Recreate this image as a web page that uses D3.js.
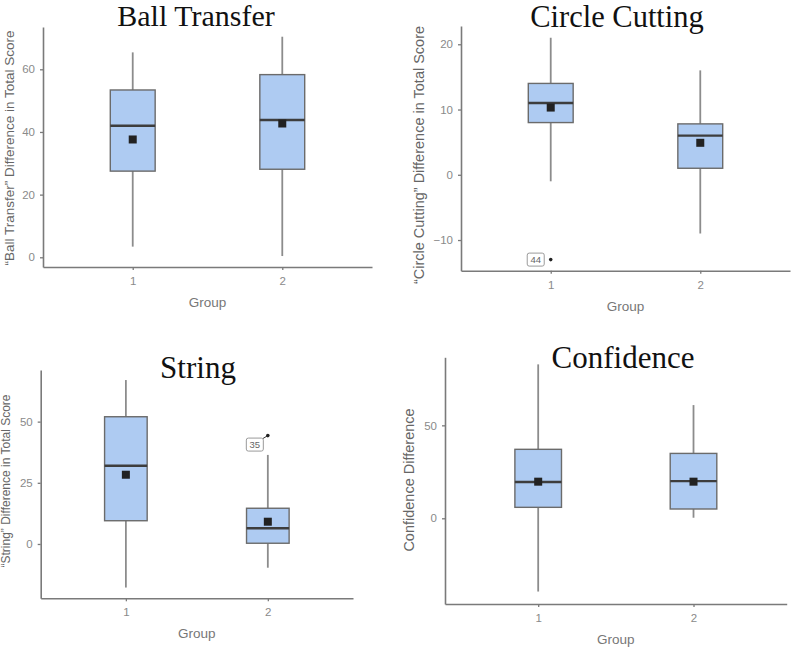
<!DOCTYPE html>
<html>
<head>
<meta charset="utf-8">
<script src="https://cdn.jsdelivr.net/npm/d3@7"></script>
<style>
  body { margin: 0; background: #fff; }
  svg { display: block; }
</style>
</head>
<body>
<svg width="794" height="650"></svg>
<script>
// groups on the x axis
var groups = ["1", "2"];

// one row per group: [lower whisker, Q1, median, Q3, upper whisker, mean]
var ballTransfer  = [[3.4, 27.5, 42, 53.4, 65.4, 37.6], [0.4, 28.1, 43.8, 58.3, 70.4, 42.7]];
var circleCutting = [[-1, 8, 11, 14, 21, 10.3], [-9, 1, 6, 7.8, 16, 4.9]];
var stringScore   = [[-17.8, 9.5, 32, 52, 67, 28.3], [-9.7, 0.3, 6.4, 14.6, 36.4, 9.1]];
var confidence    = [[-39.4, 5.9, 19.5, 37.1, 82.8, 19.7], [0.3, 5, 20, 34.9, 60.9, 19.7]];

// labelled outliers
var circleOutliers = [{group: "1", value: -13, id: "44"}];
var stringOutliers = [{group: "2", value: 44.3, id: "35"}];

// y tick labels
var ballTicks = [0, 20, 40, 60];
var circleTicks = [-10, 0, 10, 20];
var stringTicks = [0, 25, 50];
var confTicks = [0, 50];

// y axis extents
var ballDomain = [-3.1, 73.5];
var circleDomain = [-14.7, 22.8];
var stringDomain = [-22.2, 71.1];
var confDomain = [-46.1, 86.6];

var svg = d3.select("svg");

var panels = [
  {title: "Ball Transfer", ylab: "\u201CBall Transfer\u201D Difference in Total Score", rows: ballTransfer, outliers: [], ticks: ballTicks, domain: ballDomain,
   left: 43, right: 372, top: 27, bottom: 267, titleX: 196, titleY: 26, titleSize: 30, ylabX: 14, ylabY: 148, ylabSize: 13.5},
  {title: "Circle Cutting", ylab: "\u201CCircle Cutting\u201D Difference in Total Score", rows: circleCutting, outliers: circleOutliers, ticks: circleTicks, domain: circleDomain,
   left: 461, right: 790, top: 26, bottom: 270.7, titleX: 617, titleY: 27, titleSize: 30.5, ylabX: 424, ylabY: 155, ylabSize: 14.5, labDx: -15, labDy: 0},
  {title: "String", ylab: "\u201CString\u201D Difference in Total Score", rows: stringScore, outliers: stringOutliers, ticks: stringTicks, domain: stringDomain,
   left: 40.7, right: 353, top: 370, bottom: 598.3, titleX: 198, titleY: 378, titleSize: 31, ylabX: 10, ylabY: 481, ylabSize: 12, labDx: -13, labDy: 9},
  {title: "Confidence", ylab: "Confidence Difference", rows: confidence, outliers: [], ticks: confTicks, domain: confDomain,
   left: 445, right: 786.7, top: 357.3, bottom: 604, titleX: 623, titleY: 368, titleSize: 31, ylabX: 414, ylabY: 480, ylabSize: 14.5}
];

panels.forEach(drawPanel);

function drawPanel(p){
  var g = svg.append("g");

  var x = d3.scalePoint().domain(groups).range([p.left, p.right]).padding(0.6);
  var y = d3.scaleLinear().domain(p.domain).range([p.bottom, p.top]);
  var bw = x.step() * 0.3;

  // axes
  var yAxis = g.append("g")
    .attr("transform", `translate(${p.left},0)`)
    .call(d3.axisLeft(y).tickValues(p.ticks).tickSize(3).tickSizeOuter(0).tickPadding(5));
  var xAxis = g.append("g")
    .attr("transform", `translate(0,${p.bottom})`)
    .call(d3.axisBottom(x).tickSize(3).tickSizeOuter(0).tickPadding(7));
  [yAxis, xAxis].forEach(a => {
    a.select(".domain").attr("stroke", "#7a7a7a").attr("stroke-width", 1.6);
    a.selectAll(".tick line").attr("stroke", "#7a7a7a").attr("stroke-width", 1.3);
    a.selectAll(".tick text").attr("fill", "#8a8a8a").attr("font-size", 11.5)
      .attr("font-family", "Liberation Sans, Arial, sans-serif");
  });

  var box = g.selectAll(".box").data(p.rows).enter().append("g");
  //whisker
  box.append("line")
    .attr("x1", (d, i) => x(groups[i]))
    .attr("x2", (d, i) => x(groups[i]))
    .attr("y1", d => y(d[0]))
    .attr("y2", d => y(d[4]))
    .attr("stroke", "#8c8c8c")
    .attr("stroke-width", 1.8);
  //box
  box.append("rect")
    .attr("x", (d, i) => x(groups[i]) - bw / 2)
    .attr("y", d => y(d[3]))
    .attr("width", bw)
    .attr("height", d => y(d[1]) - y(d[3]))
    .attr("fill", "#aecbf2")
    .attr("stroke", "#6b6b6b")
    .attr("stroke-width", 1.4);
  //median
  box.append("line")
    .attr("x1", (d, i) => x(groups[i]) - bw / 2)
    .attr("x2", (d, i) => x(groups[i]) + bw / 2)
    .attr("y1", d => y(d[2]))
    .attr("y2", d => y(d[2]))
    .attr("stroke", "#3d3d3d")
    .attr("stroke-width", 2.4);
  //mean
  box.append("rect")
    .attr("x", (d, i) => x(groups[i]) - 4)
    .attr("y", d => y(d[5]) - 4)
    .attr("width", 8)
    .attr("height", 8)
    .attr("fill", "#222");

  // outliers with id labels
  p.outliers.forEach(o => {
    var ox = x(o.group), oy = y(o.value);
    var lx = ox + p.labDx, ly = oy + p.labDy;
    if (p.labDy > 0) {
      g.append("line")
        .attr("x1", lx + 8).attr("y1", ly - 6)
        .attr("x2", ox).attr("y2", oy)
        .attr("stroke", "#333").attr("stroke-width", 1);
    }
    g.append("rect")
      .attr("x", lx - 8.5).attr("y", ly - 6.5)
      .attr("width", 17).attr("height", 13)
      .attr("rx", 2)
      .attr("fill", "#fff")
      .attr("stroke", "#9a9a9a")
      .attr("stroke-width", 1);
    g.append("text")
      .attr("x", lx).attr("y", ly + 3.5)
      .attr("text-anchor", "middle")
      .attr("font-size", 9.5)
      .attr("font-family", "Liberation Sans, Arial, sans-serif")
      .attr("fill", "#666")
      .text(o.id);
    g.append("circle")
      .attr("cx", ox).attr("cy", oy).attr("r", 1.8)
      .attr("fill", "#222");
  });

  // title
  g.append("text")
    .attr("x", p.titleX).attr("y", p.titleY)
    .attr("text-anchor", "middle")
    .attr("font-family", "Liberation Serif, Times New Roman, serif")
    .attr("font-size", p.titleSize)
    .attr("fill", "#111")
    .text(p.title);

  // axis titles
  g.append("text")
    .attr("transform", `translate(${p.ylabX},${p.ylabY}) rotate(-90)`)
    .attr("text-anchor", "middle")
    .attr("font-family", "Liberation Sans, Arial, sans-serif")
    .attr("font-size", p.ylabSize)
    .attr("fill", "#666")
    .text(p.ylab);
  g.append("text")
    .attr("x", (p.left + p.right) / 2).attr("y", p.bottom + 40)
    .attr("text-anchor", "middle")
    .attr("font-family", "Liberation Sans, Arial, sans-serif")
    .attr("font-size", 13.5)
    .attr("fill", "#777")
    .text("Group");
}
</script>
</body>
</html>
